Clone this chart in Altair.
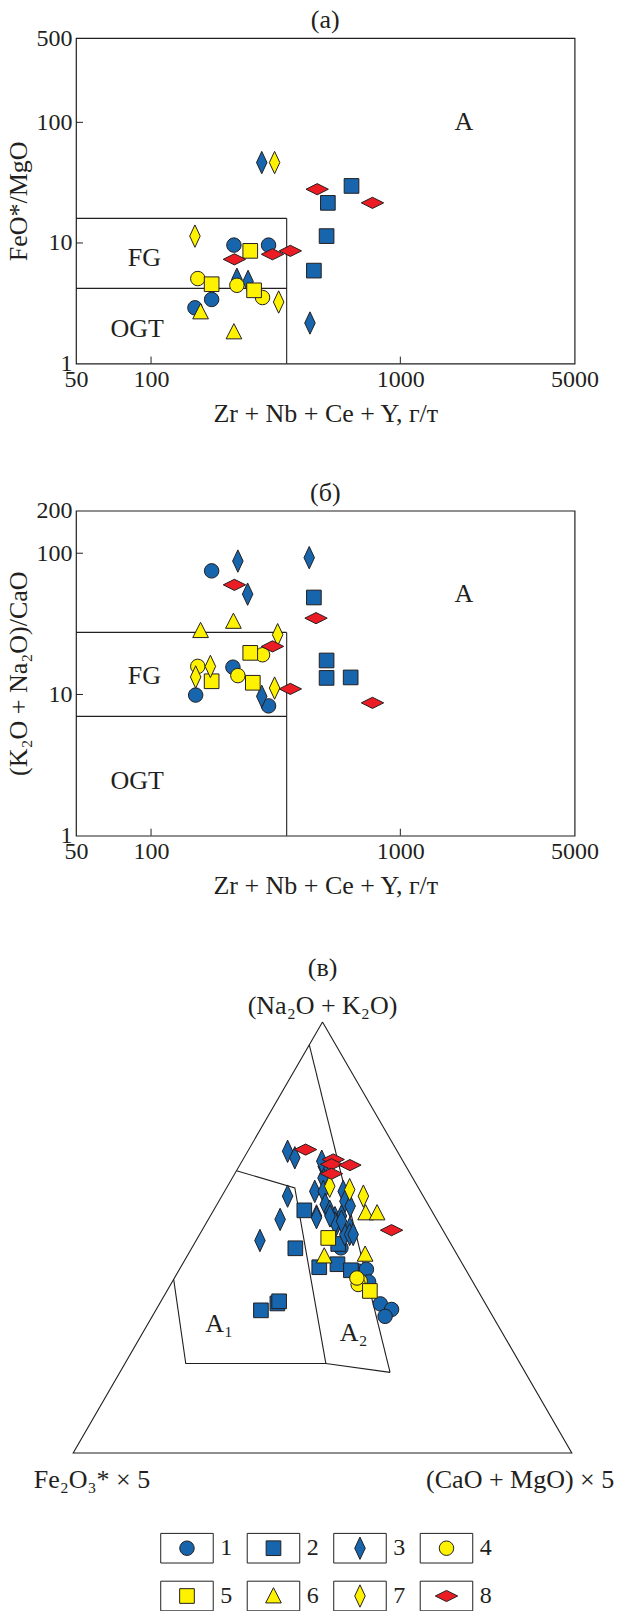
import altair as alt
import pandas as pd

FONT = "Liberation Serif"
INK = "#231f20"
BLUE = "#1765ad"
YELLOW = "#fff200"
RED = "#ec1c24"
FS = 26      # titles and in-plot labels
FS_TICK = 24

SERIES = ["1", "2", "3", "4", "5", "6", "7", "8"]
FILLS = [BLUE, BLUE, BLUE, YELLOW, YELLOW, YELLOW, YELLOW, RED]
TALL = "M0,-1L0.47,0L0,1L-0.47,0Z"
WIDE = "M-1,0L0,-0.5L1,0L0,0.5Z"
TRI = "M0,-0.9L0.85,0.75L-0.85,0.75Z"
SHAPES = ["circle", "square", TALL, "circle", "square", TRI, TALL, WIDE]
SIZES = [210, 215, 500, 210, 215, 340, 500, 500]

# ---------------- panel (a): Zr+Nb+Ce+Y vs FeO*/MgO
a1_x = [215, 296, 175, 150]; a1_y = [9.6, 9.6, 3.4, 2.9]
a2_x = [637, 512, 506, 450]; a2_y = [29.7, 21.5, 11.4, 5.9]
a3_x = [278, 434, 221, 245]; a3_y = [46.4, 2.17, 5.0, 4.8]
a4_x = [154, 221, 280]; a4_y = [5.07, 4.46, 3.53]
a5_x = [250, 175, 259]; a5_y = [8.6, 4.55, 4.05]
a6_x = [158, 215]; a6_y = [2.68, 1.83]
a7_x = [313, 150, 325]; a7_y = [46.4, 11.4, 3.24]
a8_x = [464, 773, 362, 307, 216]; a8_y = [27.9, 21.5, 8.6, 8.06, 7.32]
a_seg_x1 = [350, 50, 50]; a_seg_x2 = [350, 350, 350]
a_seg_y1 = [1, 16, 4.2]; a_seg_y2 = [16, 16, 4.2]
a_lab_t = ["A", "FG", "OGT"]; a_lab_x = [1800, 94, 88]; a_lab_y = [100, 7.5, 1.95]

# ---------------- panel (б): Zr+Nb+Ce+Y vs (K2O+Na2O)/CaO
b1_x = [175, 213, 151, 296]; b1_y = [75, 15.6, 9.9, 8.3]
b2_x = [450, 506, 506, 632]; b2_y = [48.6, 17.4, 13.1, 13.2]
b3_x = [223, 431, 244, 278]; b3_y = [88, 93, 51.3, 9.7]
b4_x = [154, 223, 280]; b4_y = [15.8, 13.6, 19.1]
b5_x = [250, 175, 256]; b5_y = [19.7, 12.4, 12.1]
b6_x = [158, 214]; b6_y = [28.3, 32.9]
b7_x = [322, 173, 151, 313]; b7_y = [26.5, 15.8, 13.3, 11.1]
b8_x = [216, 459, 307, 362, 773]; b8_y = [59.7, 34.7, 21.9, 10.95, 8.72]
b_seg_x1 = [350, 50, 50]; b_seg_x2 = [350, 350, 350]
b_seg_y1 = [1, 27.5, 7.0]; b_seg_y2 = [27.5, 27.5, 7.0]
b_lab_t = ["A", "FG", "OGT"]; b_lab_x = [1800, 94, 88]; b_lab_y = [51.3, 13.6, 2.42]

X_TICKS = [50, 100, 1000, 5000]
XTITLE = "Zr + Nb + Ce + Y, г/т"

# ---------------- panel (в): ternary, top = Na2O+K2O (%), right = (CaO+MgO)x5 (%)
t1_A = [47.6, 42.2, 42.6, 39.7, 34.6, 33.3, 31.7]
t1_C = [29.9, 36.1, 37.5, 39.4, 44.3, 47.2, 46.7]
t2_A = [56.3, 47.5, 43.1, 43.8, 42.4, 48.5, 33.1, 34.7, 35.2]
t2_C = [18.2, 20.8, 27.8, 31.1, 34.5, 28.9, 21.1, 23.6, 23.7]
t3_A = [70.0, 68.5, 59.6, 54.2, 49.3, 66.5, 63.8, 60.7, 60.7, 57.7, 56.1, 54.6, 60.7, 58.4,
        57.3, 55.0, 55.0, 53.0, 52.2, 67.7, 54.6, 50.7, 50.7, 50.7, 53.4, 55.0, 53.8]
t3_C = [8.0, 10.2, 13.2, 14.4, 12.8, 16.9, 18.2, 18.1, 19.8, 21.7, 23.4, 25.2, 23.8, 25.3,
        26.9, 26.3, 21.3, 26.3, 29.4, 16.0, 21.5, 29.1, 30.1, 30.8, 25.8, 24.0, 26.9]
t4_A = [39.9, 39.1, 40.6]; t4_C = [37.6, 37.6, 36.6]
t5_A = [49.9, 37.6]; t5_C = [26.2, 40.7]
t6_A = [55.7, 55.7, 45.7, 46.1]; t6_C = [30.8, 33.1, 27.5, 35.5]
t7_A = [61.9, 61.1, 59.6]; t7_C = [20.5, 24.9, 28.4]
t8_A = [70.4, 68.1, 67.0, 66.8, 64.8, 51.7]; t8_C = [11.4, 18.1, 18.3, 22.1, 19.4, 38.0]
tri_A = [100, 0, 0, 100]; tri_C = [0, 0, 100, 0]
f1_A = [65.5, 61.5, 20.75]; f1_C = [0, 13.7, 40.3]
f2_A = [40.3, 20.75, 20.75, 18.7]; f2_C = [0, 12.2, 40.3, 54.2]
f3_A = [94.7, 18.7]; f3_C = [0, 54.2]
fld_t = ["A\u2081", "A\u2082"]; fld_A = [29.9, 27.9]; fld_C = [14.3, 42.3]

# legend layout (column, row of each series)
leg_col = [0, 1, 2, 3, 0, 1, 2, 3]
leg_row = [0, 0, 0, 0, 1, 1, 1, 1]

W = 498.6
H_A = 325.6
H_B = 325.0


def series_df(xs, ys):
    rows = []
    for s, xv, yv in zip(SERIES, xs, ys):
        for a, b in zip(xv, yv):
            rows.append({"s": s, "x": a, "y": b})
    return pd.DataFrame(rows)


def marker_layers(df, xenc, yenc):
    out = []
    for i, s in enumerate(SERIES):
        out.append(
            alt.Chart(df).transform_filter(alt.datum.s == s).mark_point(
                shape=SHAPES[i], size=SIZES[i], filled=True, fill=FILLS[i],
                stroke=INK, strokeWidth=1, opacity=1, fillOpacity=1
            ).encode(x=xenc, y=yenc)
        )
    return out


def log_panel(xs, ys, sx1, sx2, sy1, sy2, lt, lx, ly, ydom, yvals, ytitle, title, H):
    X = alt.X("x:Q", scale=alt.Scale(type="log", domain=[50, 5000]),
              axis=alt.Axis(values=X_TICKS, format="d", title=XTITLE, ticks=False,
                            domain=False, grid=False, labelFlush=False,
                            labelOverlap=False, labelPadding=4, titlePadding=9))
    Y = alt.Y("y:Q", scale=alt.Scale(type="log", domain=ydom),
              axis=alt.Axis(values=yvals, format="d", title=ytitle, ticks=False,
                            domain=False, grid=False, labelOverlap=False,
                            labelPadding=4, titlePadding=4))
    seg = pd.DataFrame({"x": sx1, "x2": sx2, "y": sy1, "y2": sy2})
    lines = alt.Chart(seg).mark_rule(color=INK, strokeWidth=1.1).encode(
        x=X, x2="x2:Q", y=Y, y2="y2:Q")
    xt = alt.Chart(pd.DataFrame({"x": X_TICKS[1:3]})).mark_rule(color=INK).encode(
        x=X, y=alt.value(H), y2=alt.value(H - 7))
    yt = alt.Chart(pd.DataFrame({"y": yvals[1:3]})).mark_rule(color=INK).encode(
        y=Y, x=alt.value(0), x2=alt.value(7))
    labs = alt.Chart(pd.DataFrame({"t": lt, "x": lx, "y": ly})).mark_text(
        font=FONT, fontSize=FS, color=INK).encode(x=X, y=Y, text="t:N")
    layers = [lines, xt, yt, labs] + marker_layers(series_df(xs, ys), X, Y)
    return alt.layer(*layers).properties(
        width=W, height=H,
        title=alt.TitleParams(text=title, frame="group", anchor="middle", offset=-7))


pa = log_panel([a1_x, a2_x, a3_x, a4_x, a5_x, a6_x, a7_x, a8_x],
               [a1_y, a2_y, a3_y, a4_y, a5_y, a6_y, a7_y, a8_y],
               a_seg_x1, a_seg_x2, a_seg_y1, a_seg_y2, a_lab_t, a_lab_x, a_lab_y,
               [1, 500], [1, 10, 100, 500], "FeO*/MgO", "(a)", H_A)
pb = log_panel([b1_x, b2_x, b3_x, b4_x, b5_x, b6_x, b7_x, b8_x],
               [b1_y, b2_y, b3_y, b4_y, b5_y, b6_y, b7_y, b8_y],
               b_seg_x1, b_seg_x2, b_seg_y1, b_seg_y2, b_lab_t, b_lab_x, b_lab_y,
               [1, 200], [1, 10, 100, 200], "(K\u2082O + Na\u2082O)/CaO", "(б)", H_B)

# ---------------- ternary + legend
TH = 629.3
TX = alt.X("px:Q", scale=alt.Scale(domain=[0.0056, 1.0056]), axis=None)
TY = alt.Y("py:Q", scale=alt.Scale(domain=[-0.3682, 1.0919]), axis=None)


def tern(A, C):
    return [c / 100 + a / 200 for a, c in zip(A, C)], [a / 100 for a in A]


line_rows = []
for lid, (A, C) in enumerate([(tri_A, tri_C), (f1_A, f1_C), (f2_A, f2_C), (f3_A, f3_C)]):
    px, py = tern(A, C)
    for o, (u, v) in enumerate(zip(px, py)):
        line_rows.append({"id": lid, "o": o, "px": u, "py": v})
tlines = alt.Chart(pd.DataFrame(line_rows)).mark_line(color=INK, strokeWidth=1.1).encode(
    x=TX, y=TY, detail="id:N", order="o:Q")

tpts = []
for s, A, C in zip(SERIES, [t1_A, t2_A, t3_A, t4_A, t5_A, t6_A, t7_A, t8_A],
                   [t1_C, t2_C, t3_C, t4_C, t5_C, t6_C, t7_C, t8_C]):
    px, py = tern(A, C)
    for u, v in zip(px, py):
        tpts.append({"s": s, "px": u, "py": v})
tdf = pd.DataFrame(tpts)
tmarks = marker_layers(tdf, TX, TY)

fpx, fpy = tern(fld_A, fld_C)
tfields = alt.Chart(pd.DataFrame({"t": fld_t, "px": fpx, "py": fpy})).mark_text(
    font=FONT, fontSize=FS, color=INK).encode(x=TX, y=TY, text="t:N")


def vtext(txt, vx, vy, **kw):
    return alt.Chart(pd.DataFrame({"t": [txt], "px": [vx], "py": [vy]})).mark_text(
        font=FONT, fontSize=FS, color=INK, **kw).encode(x=TX, y=TY, text="t:N")


t_title = vtext("(в)", 0.5, 1.0, dy=-54)
t_top = vtext("(Na\u2082O + K\u2082O)", 0.5, 1.0, dy=-16)
t_left = vtext("Fe\u2082O\u2083* × 5", 0.0, 0.0, align="left", dx=-39.5, dy=27)
t_right = vtext("(CaO + MgO) × 5", 1.0, 0.0, align="right", dx=42.4, dy=27)

LDX = alt.Scale(domain=[-1.283, 4.481])
LDY = alt.Scale(domain=[-11.837, 1.328], reverse=True)
LX = alt.X("lx:Q", scale=LDX, axis=None)
LY = alt.Y("ly:Q", scale=LDY, axis=None)
LX1 = alt.X("bx1:Q", scale=LDX, axis=None)
LY1 = alt.Y("by1:Q", scale=LDY, axis=None)
boxes = pd.DataFrame({
    "bx1": [c - 0.3035 for c in leg_col], "bx2": [c + 0.3035 for c in leg_col],
    "by1": [r - 0.31 for r in leg_row], "by2": [r + 0.31 for r in leg_row]})
lboxes = alt.Chart(boxes).mark_rect(fill="white", stroke=INK, strokeWidth=1).encode(
    x=LX1, x2="bx2:Q", y=LY1, y2="by2:Q")
ldf = pd.DataFrame({"s": SERIES, "lx": leg_col, "ly": leg_row})
lmarks = marker_layers(ldf, LX, LY)
nums = pd.DataFrame({"t": SERIES, "lx": [c + 0.385 for c in leg_col], "ly": leg_row})
lnums = alt.Chart(nums).mark_text(font=FONT, fontSize=FS_TICK, color=INK, align="left").encode(
    x=LX, y=LY, text="t:N")

tern_chart = alt.layer(
    tlines, *tmarks, tfields, t_title, t_top, t_left, t_right, lboxes, *lmarks, lnums
).resolve_scale(x="independent", y="independent").properties(
    width=W, height=TH, view=alt.ViewBackground(stroke="transparent"))

chart = alt.vconcat(pa, pb, tern_chart, spacing=146.7, bounds="flush").properties(
    padding={"left": 5, "top": 6, "right": 0, "bottom": 0}, background="white"
).configure_view(stroke=INK, strokeWidth=1.2).configure_axis(
    labelFont=FONT, titleFont=FONT, labelFontSize=FS_TICK, titleFontSize=FS,
    titleFontWeight="normal", labelColor=INK, titleColor=INK
).configure_title(font=FONT, fontSize=FS, fontWeight="normal", color=INK)

chart.save("out.html", embed_options={"renderer": "svg", "actions": False})
